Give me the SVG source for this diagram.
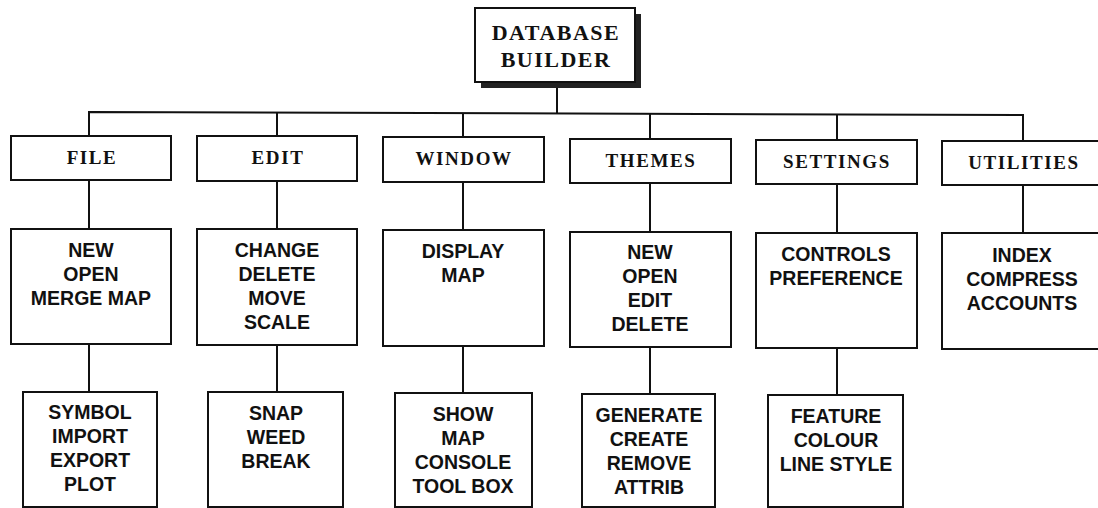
<svg xmlns="http://www.w3.org/2000/svg" width="1098" height="508" viewBox="0 0 1098 508">
<style>
.box{fill:#fff;stroke:#111;stroke-width:2}
.shadow{fill:#222}
.ttl{font-family:"Liberation Serif","Times New Roman",serif;font-weight:bold;font-size:22px;letter-spacing:1.5px;fill:#111;text-anchor:middle}
.menu{font-family:"Liberation Serif","Times New Roman",serif;font-weight:bold;font-size:19px;letter-spacing:1.6px;fill:#111;text-anchor:middle}
.item{font-family:"Liberation Sans",Arial,sans-serif;font-weight:bold;font-size:19.5px;fill:#111;text-anchor:middle}
.conn{fill:none;stroke:#111;stroke-width:2}
</style>
<rect width="1098" height="508" fill="#fff"/>
<g id="connectors">
<path class="conn" d="M557 87 V113"/>
<path class="conn" d="M89 136 V112 L1023 115 V141"/>
<path class="conn" d="M277 112.5 V136"/>
<path class="conn" d="M463 113 V137"/>
<path class="conn" d="M650 113.5 V139"/>
<path class="conn" d="M837 114 V140"/>
<path class="conn" d="M89 180 V229"/>
<path class="conn" d="M277 181 V229"/>
<path class="conn" d="M463 182 V230"/>
<path class="conn" d="M650 183 V232"/>
<path class="conn" d="M837 184 V233"/>
<path class="conn" d="M1023 185 V233"/>
<path class="conn" d="M89 344 V392"/>
<path class="conn" d="M277 345 V392"/>
<path class="conn" d="M463 346 V393"/>
<path class="conn" d="M650 347 V394"/>
<path class="conn" d="M837 348 V395"/>
</g>
<g id="database-builder">
<rect class="shadow" x="481" y="82" width="160" height="6"/>
<rect class="shadow" x="635" y="14" width="6" height="74"/>
<rect class="box" x="475" y="8" width="160" height="74"/>
<text class="ttl" x="556" y="40">DATABASE</text>
<text class="ttl" x="556" y="67">BUILDER</text>
</g>
<g id="file">
<rect class="box" x="11" y="136" width="160" height="44"/>
<text class="menu" x="92" y="164">FILE</text>
</g>
<g id="edit">
<rect class="box" x="197" y="136" width="160" height="45"/>
<text class="menu" x="278" y="164">EDIT</text>
</g>
<g id="window">
<rect class="box" x="383" y="137" width="161" height="45"/>
<text class="menu" x="464" y="165">WINDOW</text>
</g>
<g id="themes">
<rect class="box" x="570" y="139" width="161" height="44"/>
<text class="menu" x="651" y="167">THEMES</text>
</g>
<g id="settings">
<rect class="box" x="756" y="140" width="161" height="44"/>
<text class="menu" x="837" y="168">SETTINGS</text>
</g>
<g id="utilities">
<rect class="box" x="942" y="141" width="162" height="44"/>
<text class="menu" x="1024" y="169">UTILITIES</text>
</g>
<g id="file-items">
<rect class="box" x="11" y="229" width="160" height="115"/>
<text class="item" x="91" y="257">NEW</text>
<text class="item" x="91" y="281">OPEN</text>
<text class="item" x="91" y="305">MERGE MAP</text>
</g>
<g id="edit-items">
<rect class="box" x="197" y="229" width="160" height="116"/>
<text class="item" x="277" y="257">CHANGE</text>
<text class="item" x="277" y="281">DELETE</text>
<text class="item" x="277" y="305">MOVE</text>
<text class="item" x="277" y="329">SCALE</text>
</g>
<g id="window-items">
<rect class="box" x="383" y="230" width="161" height="116"/>
<text class="item" x="463" y="258">DISPLAY</text>
<text class="item" x="463" y="282">MAP</text>
</g>
<g id="themes-items">
<rect class="box" x="570" y="232" width="161" height="115"/>
<text class="item" x="650" y="259">NEW</text>
<text class="item" x="650" y="283">OPEN</text>
<text class="item" x="650" y="307">EDIT</text>
<text class="item" x="650" y="331">DELETE</text>
</g>
<g id="settings-items">
<rect class="box" x="756" y="233" width="161" height="115"/>
<text class="item" x="836" y="261">CONTROLS</text>
<text class="item" x="836" y="285">PREFERENCE</text>
</g>
<g id="utilities-items">
<rect class="box" x="942" y="233" width="162" height="116"/>
<text class="item" x="1022" y="262">INDEX</text>
<text class="item" x="1022" y="286">COMPRESS</text>
<text class="item" x="1022" y="310">ACCOUNTS</text>
</g>
<g id="file-sub">
<rect class="box" x="23" y="392" width="134" height="115"/>
<text class="item" x="90" y="419">SYMBOL</text>
<text class="item" x="90" y="443">IMPORT</text>
<text class="item" x="90" y="467">EXPORT</text>
<text class="item" x="90" y="491">PLOT</text>
</g>
<g id="edit-sub">
<rect class="box" x="208" y="392" width="135" height="115"/>
<text class="item" x="276" y="420">SNAP</text>
<text class="item" x="276" y="444">WEED</text>
<text class="item" x="276" y="468">BREAK</text>
</g>
<g id="window-sub">
<rect class="box" x="395" y="393" width="137" height="114"/>
<text class="item" x="463" y="421">SHOW</text>
<text class="item" x="463" y="445">MAP</text>
<text class="item" x="463" y="469">CONSOLE</text>
<text class="item" x="463" y="493">TOOL BOX</text>
</g>
<g id="themes-sub">
<rect class="box" x="582" y="394" width="133" height="113"/>
<text class="item" x="649" y="422">GENERATE</text>
<text class="item" x="649" y="446">CREATE</text>
<text class="item" x="649" y="470">REMOVE</text>
<text class="item" x="649" y="494">ATTRIB</text>
</g>
<g id="settings-sub">
<rect class="box" x="768" y="395" width="135" height="112"/>
<text class="item" x="836" y="423">FEATURE</text>
<text class="item" x="836" y="447">COLOUR</text>
<text class="item" x="836" y="471">LINE STYLE</text>
</g>
</svg>
